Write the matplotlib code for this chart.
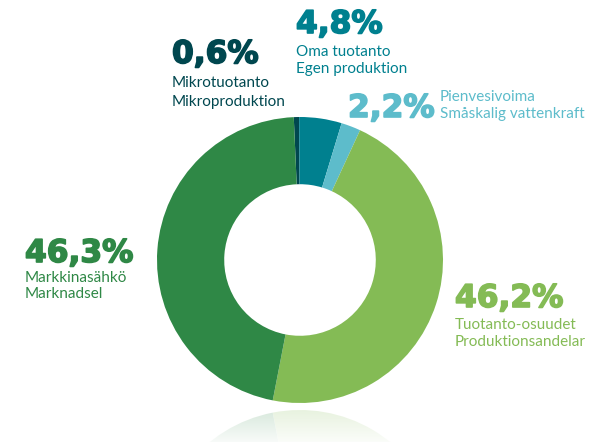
import matplotlib
matplotlib.use("Agg")
from matplotlib import pyplot as plt
from matplotlib import patheffects
import numpy as np

# share of electricity sources, percent (clockwise from the top)
labels_fi = ["Mikrotuotanto", "Oma tuotanto", "Pienvesivoima", "Tuotanto-osuudet", "Markkinasähkö"]
labels_sv = ["Mikroproduktion", "Egen produktion", "Småskalig vattenkraft", "Produktionsandelar", "Marknadsel"]
shares = [0.6, 4.8, 2.2, 46.2, 46.3]
share_text = ["0,6%", "4,8%", "2,2%", "46,2%", "46,3%"]
colors = ["#00474f", "#00808f", "#5dbccb", "#84bb55", "#2f8846"]

W, H = 600, 442
fig = plt.figure(figsize=(6, 4.42), dpi=100)
ax = fig.add_axes([0, 0, 1, 1])
ax.set_xlim(0, W)
ax.set_ylim(0, H)
ax.set_aspect("equal")
ax.axis("off")

cx, cy, R = 300, H - 260, 143
ring = 0.47

ax.pie(shares, colors=colors, startangle=92.5, counterclock=False,
       radius=R, center=(cx, cy), frame=True,
       wedgeprops=dict(width=R * ring, linewidth=0))

# mirrored reflection under the ring
mirror_y = H - 406.5
ax.pie(shares, colors=colors, startangle=-92.5, counterclock=True,
       radius=R, center=(cx, 2 * mirror_y - cy), frame=True,
       wedgeprops=dict(width=R * ring, linewidth=0))
fade = np.ones((60, 2, 4))
fade[..., 3] = np.linspace(0.97, 0.8, 60)[:, None]
ax.imshow(fade, extent=(0, W, 0, mirror_y), origin="lower", zorder=5, aspect="auto")
ax.set_xlim(0, W)
ax.set_ylim(0, H)

big = dict(family=["DejaVu Sans"], weight="bold", fontsize=22.5)
small = dict(family=["Lato", "DejaVu Sans"], fontsize=11)

# (x, baseline of percent, baseline of fi line, baseline of sv line)
spots = {
    0: (172, 63, 87, 106),
    1: (296, 33, 56, 73),
    3: (455, 307, 329, 346),
    4: (25, 262, 282, 298),
}
for i, (x, yb, y1, y2) in spots.items():
    t = ax.text(x, H - yb, share_text[i], color=colors[i], va="baseline", zorder=6, **big)
    t.set_path_effects([patheffects.withStroke(linewidth=1.2, foreground=colors[i])])
    ax.text(x, H - y1, labels_fi[i], color=colors[i], va="baseline", zorder=6, **small)
    ax.text(x, H - y2, labels_sv[i], color=colors[i], va="baseline", zorder=6, **small)

# small hydro label sits beside its number
t = ax.text(348, H - 117, share_text[2], color=colors[2], va="baseline", zorder=6, **big)
t.set_path_effects([patheffects.withStroke(linewidth=1.2, foreground=colors[2])])
ax.text(440, H - 101, labels_fi[2], color=colors[2], va="baseline", zorder=6, **small)
ax.text(440, H - 118, labels_sv[2], color=colors[2], va="baseline", zorder=6, **small)

fig.savefig("out.png", dpi=100)
